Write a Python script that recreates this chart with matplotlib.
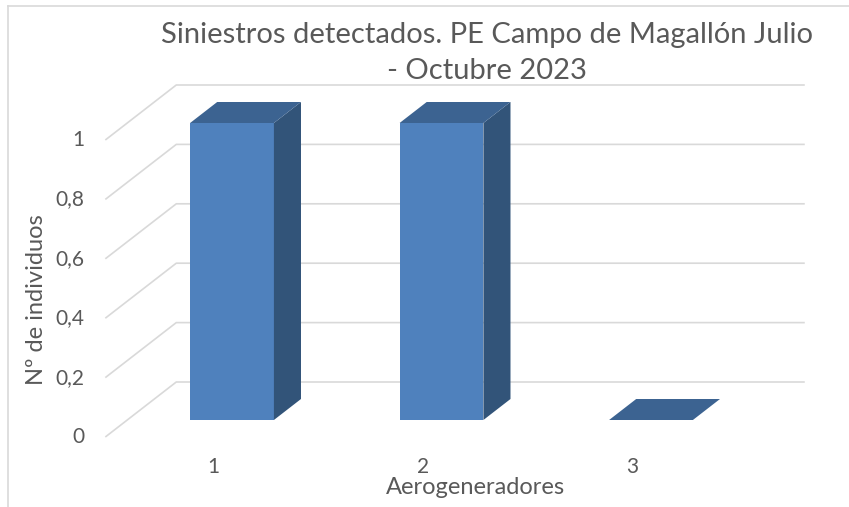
import numpy as np
import matplotlib
matplotlib.use('Agg')
import matplotlib.pyplot as plt
from matplotlib.patches import Polygon

# Data
categories = ['1', '2', '3']
values = [1, 1, 0]
yticks = [0, 0.2, 0.4, 0.6, 0.8, 1]
ytick_labels = ['0', '0,2', '0,4', '0,6', '0,8', '1']
title = 'Siniestros detectados. PE Campo de Magallón Julio\n- Octubre 2023'
xlabel = 'Aerogeneradores'
ylabel = 'Nº de individuos'

# Colours
FRONT = '#4F81BD'
SIDE = '#325479'
TOP = '#3C6391'
GRID = '#D9D9D9'
TEXT = '#595959'

plt.rcParams['font.family'] = ['Lato', 'DejaVu Sans']

W, H = 849, 507
fig = plt.figure(figsize=(W / 100, H / 100), dpi=100)

# axes box in pixels and scale (px per category / px per unit)
PX_X, PX_Y = 209.5, 297.0
left_px, right_px, top_px, bot_px = 100, 820, 60, 440
ax = fig.add_axes([left_px / W, 1 - bot_px / H, (right_px - left_px) / W, (bot_px - top_px) / H])
ax.set_xlim(1 + (left_px - 232) / PX_X, 1 + (right_px - 232) / PX_X)
ax.set_ylim(-(bot_px - 420) / PX_Y, (420 - top_px) / PX_Y)
ax.axis('off')

SLANT = 1.29
D_FRONT, D_BAR, D_BACK = -17, 21, 38
bar_w = 0.4
x0, x1 = 0.5, 3.5


def shift(x, y, d):
    return (x + SLANT * d / PX_X, y + d / PX_Y)


# walls / gridlines
for v in yticks:
    a = shift(x0, v, D_FRONT)
    b = shift(x0, v, D_BACK)
    c = shift(x1, v, D_BACK)
    ax.plot([a[0], b[0], c[0]], [a[1], b[1], c[1]], color=GRID, lw=1.2, zorder=1,
            solid_capstyle='butt')

# tick labels
for v, lab in zip(yticks, ytick_labels):
    ax.annotate(lab, shift(x0, v, D_FRONT), xytext=(-21, 0), textcoords='offset pixels',
                ha='right', va='center', fontsize=15, color=TEXT)

for i, (cat, v) in enumerate(zip(categories, values)):
    xc = i + 1
    l, r = xc - bar_w / 2, xc + bar_w / 2
    if v > 0:
        ax.add_patch(Polygon([(l, 0), (r, 0), (r, v), (l, v)], closed=True,
                             facecolor=FRONT, edgecolor='none', zorder=3))
        ax.add_patch(Polygon([(r, 0), (r, v), shift(r, v, D_BAR), shift(r, 0, D_BAR)],
                             closed=True, facecolor=SIDE, edgecolor='none', zorder=3))
    ax.add_patch(Polygon([(l, v), (r, v), shift(r, v, D_BAR), shift(l, v, D_BAR)],
                         closed=True, facecolor=TOP, edgecolor='none', zorder=3))
    ax.annotate(cat, shift(xc, 0, D_FRONT), xytext=(3, -30), textcoords='offset pixels',
                ha='center', va='center', fontsize=15, color=TEXT)

fig.text(475 / W, 1 - 488 / H, xlabel, ha='center', va='center', fontsize=17, color=TEXT)
fig.text(37 / W, 1 - 300 / H, ylabel, ha='center', va='center', rotation=90,
         fontsize=17, color=TEXT)
fig.text(487 / W, 1 - 53 / H, title, ha='center', va='center', fontsize=21,
         color=TEXT, linespacing=1.45)

# chart border (top and left visible)
fig.add_artist(plt.Line2D([8 / W, 1], [1 - 6 / H, 1 - 6 / H], color=GRID, lw=1.2))
fig.add_artist(plt.Line2D([8 / W, 8 / W], [0, 1 - 6 / H], color=GRID, lw=1.2))

fig.savefig('out.png', dpi=100)
